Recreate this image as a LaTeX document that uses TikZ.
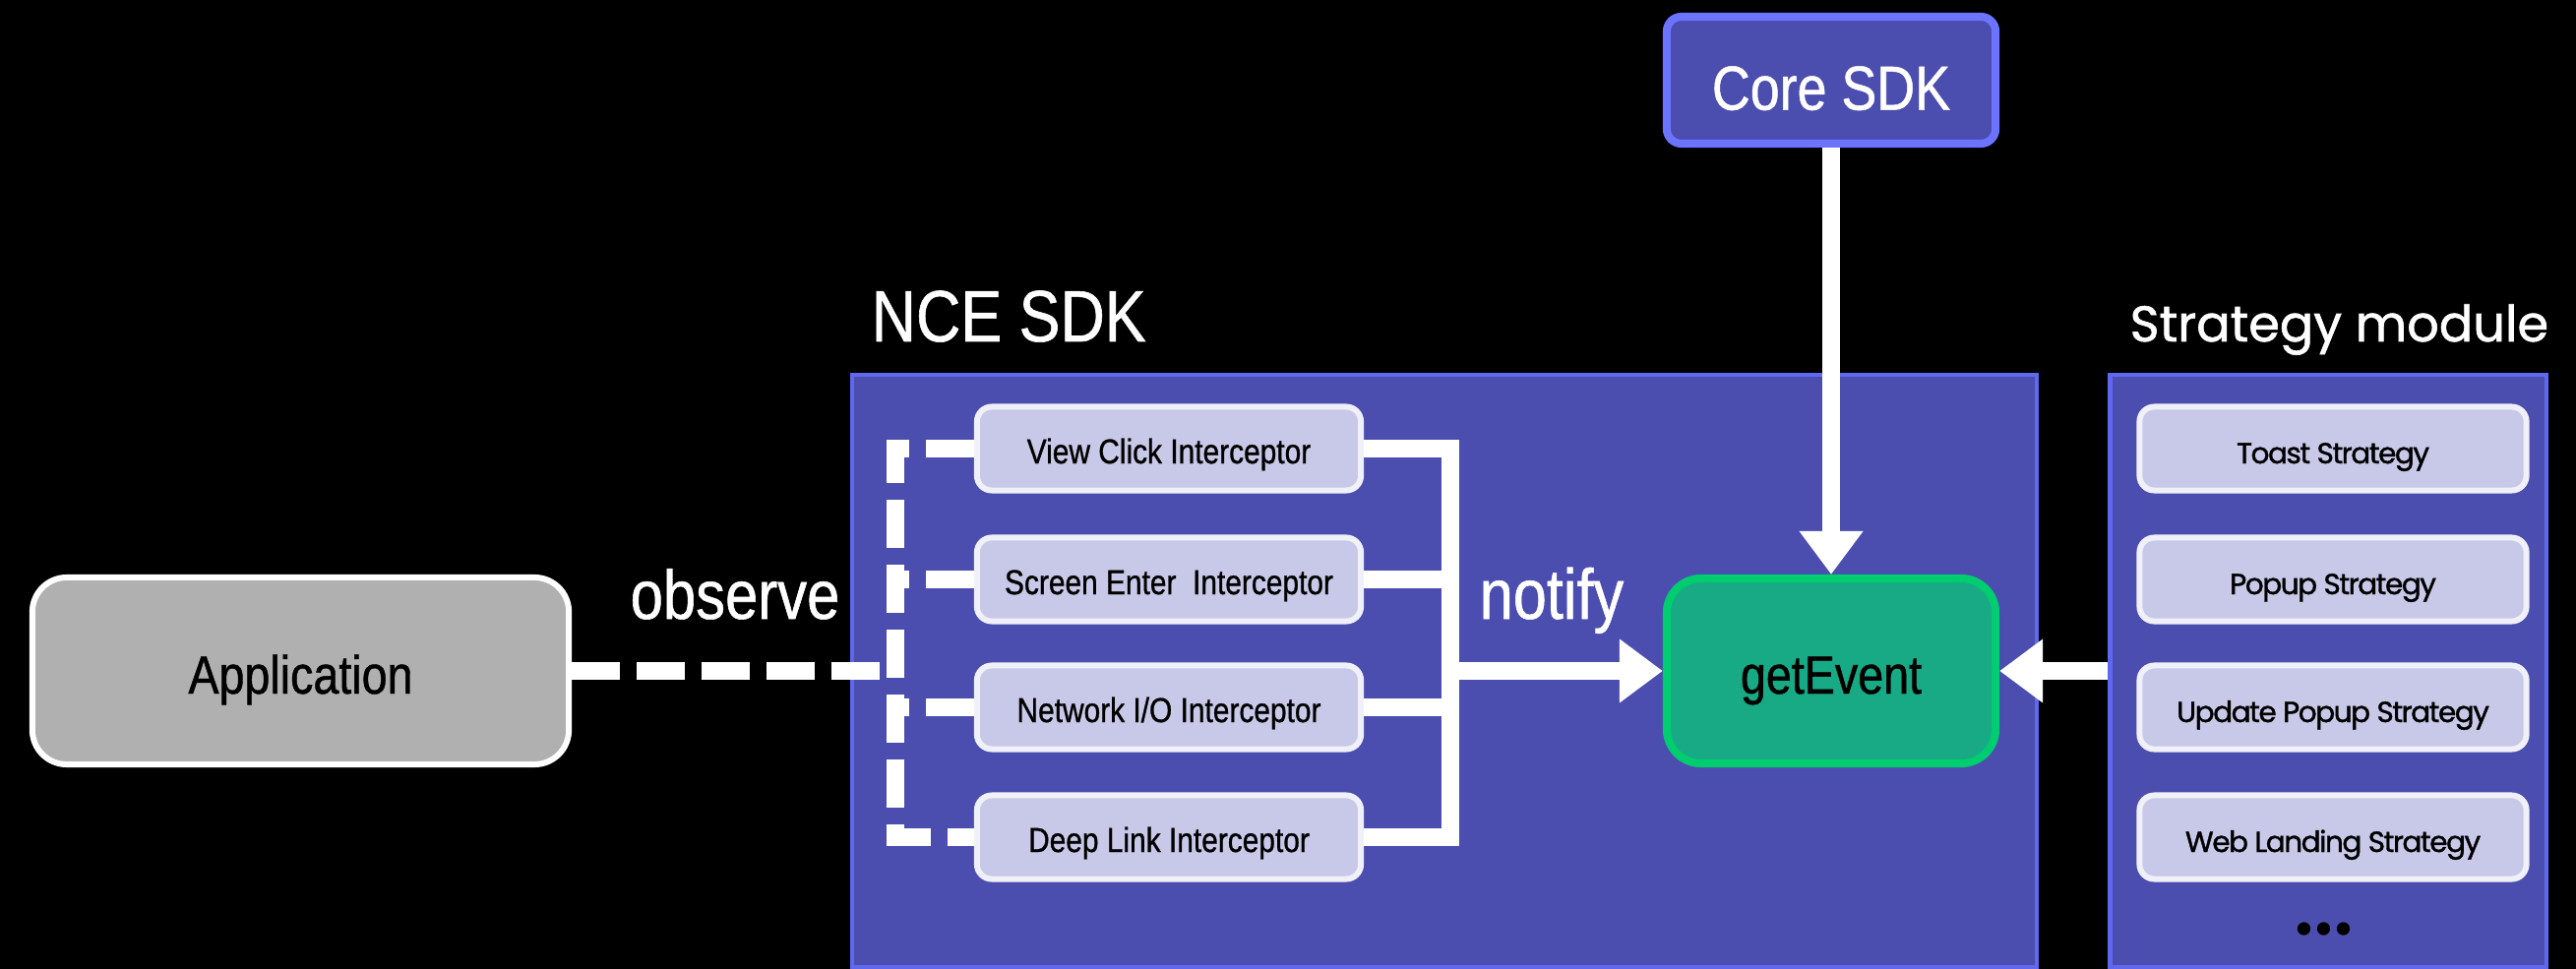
\documentclass[tikz,border=0pt]{standalone}
\usepackage{fontspec}
\setmainfont{Liberation Sans}[FakeStretch=0.85, FakeBold=0.8]
\newfontfamily\popfont{Poppins}[FakeBold=1.2]
\newfontfamily\symfont{DejaVu Sans}
\usetikzlibrary{arrows.meta}
\definecolor{cfill}{HTML}{4B4EAE}
\definecolor{cborder}{HTML}{6168F0}
\definecolor{coreborder}{HTML}{6B73FF}
\definecolor{ifill}{HTML}{C8C8E8}
\definecolor{ibord}{HTML}{F0F0F8}
\definecolor{gefill}{HTML}{17AA85}
\definecolor{gebord}{HTML}{00CC70}
\definecolor{appfill}{HTML}{B0B0B0}
\begin{document}
\begin{tikzpicture}[x=0.01cm,y=-0.01cm,
  cont/.style={draw=cborder, fill=cfill, line width=1.2pt, inner sep=0},
  inter/.style={draw=ibord, fill=ifill, line width=1.7pt, rounded corners=0.15cm,
    minimum width=3.90cm, minimum height=0.85cm, inner sep=0, text=black,
    text height=0.3cm, text depth=0pt,
    font=\fontsize{10}{12}\selectfont},
  strat/.style={draw=ibord, fill=ifill, line width=1.7pt, rounded corners=0.15cm,
    minimum width=3.93cm, minimum height=0.85cm, inner sep=0, text=black,
    text height=0.3cm, text depth=0pt,
    font=\popfont\addfontfeature{LetterSpace=-5}\fontsize{8.4}{10}\selectfont},
  bigbox/.style={line width=2.3pt, rounded corners=0.35cm, minimum width=3.34cm,
    minimum height=1.88cm, inner sep=0, text=black, text height=0.46cm, text depth=0pt,
    font=\fontsize{15.6}{18}\selectfont},
  lbl/.style={text=white, inner sep=0, anchor=base west},
  wline/.style={draw=white, line width=5.1pt, line join=miter},
  warrow/.style={wline, -{Triangle[length=0.44cm, width=0.62cm]}},
  dline/.style={draw=white, line width=5.1pt, dash pattern=on 0.49cm off 0.17cm}
]
\fill[black] (0,0) rectangle (2618,985);
\useasboundingbox (0,0) rectangle (2618,985);

% containers
\node[cont, minimum width=12.04cm, minimum height=6.02cm] (nce) at (1468,682) {};
\node[cont, minimum width=4.43cm, minimum height=6.02cm] (strat) at (2366,682) {};

% titles
\node[lbl, font=\fontsize{21}{25}\selectfont] (ncelbl) at (885,347) {NCE SDK};
\node[lbl, font=\popfont\fontsize{14.5}{17}\selectfont] (stratlbl) at (2164,347) {Strategy module};
\node[lbl, font=\fontsize{20}{24}\selectfont] (obs) at (640,629) {observe};
\node[lbl, font=\fontsize{20.5}{24}\selectfont] (ntf) at (1503,629) {notify};

% core sdk
\node[bigbox, draw=coreborder, fill=cfill, rounded corners=0.15cm, minimum height=1.29cm,
  text=white, text height=0.6cm, font=\fontsize{18}{22}\selectfont] (core) at (1861,81.5) {Core SDK};

% getEvent and application
\node[bigbox, draw=gebord, fill=gefill] (ge) at (1861,682) {getEvent};
\node[bigbox, draw=white, fill=appfill, line width=1.7pt, minimum width=5.45cm,
  minimum height=1.90cm] (app) at (305.5,682) {Application};

% interceptors
\node[inter] (i1) at (1188,456) {View Click Interceptor};
\node[inter] (i2) at (1188,589) {Screen Enter~ Interceptor};
\node[inter] (i3) at (1188,719) {Network I/O Interceptor};
\node[inter] (i4) at (1188,851) {Deep Link Interceptor};

% strategies
\node[strat] (s1) at (2371,456) {Toast Strategy};
\node[strat] (s2) at (2371,589) {Popup Strategy};
\node[strat] (s3) at (2371,719) {Update Popup Strategy};
\node[strat] (s4) at (2371,851) {Web Landing Strategy};
\node[inner sep=0, text=black, font=\symfont\fontsize{13}{13}\selectfont] (dots) at (2362,950) {•\kern-0.15em•\kern-0.15em•};

% notify bus
\coordinate (bus) at (1474,456);
\draw[wline] (i1.east) -- (i1.east -| bus) -- (i4.east -| bus) -- (i4.east);
\draw[wline] (i2.east) -- (i2.east -| bus);
\draw[wline] (i3.east) -- (i3.east -| bus);
\draw[warrow] (ge.west -| bus) -- (ge.west);

% observe dashed
\coordinate (obv) at (910,456);
\draw[dline] (i1.west) -- (i1.west -| obv) -- (i4.west -| obv) -- (i4.west);
\draw[dline] (i2.west) -- (i2.west -| obv);
\draw[dline] (i3.west) -- (i3.west -| obv);
\draw[dline] (app.east) -- (app.east -| obv);

% arrows into getEvent
\draw[warrow] (core.south) -- (ge.north);
\draw[warrow] (strat.west |- ge.east) -- (ge.east);
\end{tikzpicture}
\end{document}
